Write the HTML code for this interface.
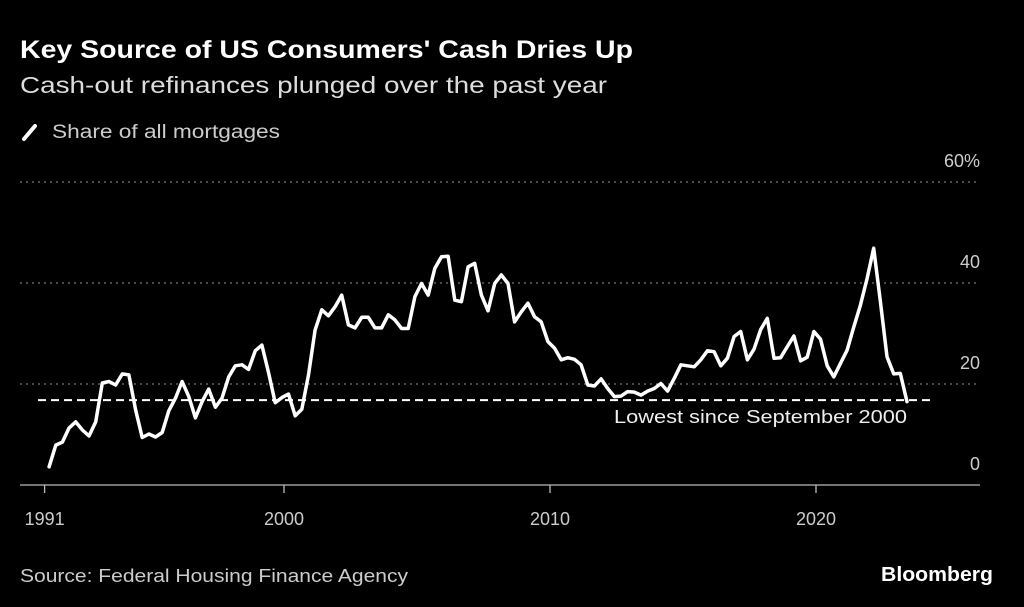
<!DOCTYPE html>
<html><head><meta charset="utf-8"><style>
html,body{margin:0;padding:0;background:#000;width:1024px;height:607px;overflow:hidden}
svg{display:block;font-family:"Liberation Sans",sans-serif}
</style></head><body>
<svg id="chart" width="1024" height="607" viewBox="0 0 1024 607">
<rect width="1024" height="607" fill="#000"/>
<text x="20" y="58" fill="#fff" font-size="25" font-weight="bold" textLength="613" lengthAdjust="spacingAndGlyphs">Key Source of US Consumers' Cash Dries Up</text>
<text x="20" y="93" fill="#ddd" font-size="23" textLength="587" lengthAdjust="spacingAndGlyphs">Cash-out refinances plunged over the past year</text>
<line x1="24" y1="139" x2="35" y2="126" stroke="#fff" stroke-width="4" stroke-linecap="round"/>
<text x="52" y="138" fill="#ccc" font-size="19" textLength="228" lengthAdjust="spacingAndGlyphs">Share of all mortgages</text>
<g id="grid"></g>
<g id="axes"></g>
<g id="marks"></g>
<text x="20" y="582" fill="#ccc" font-size="18" textLength="388" lengthAdjust="spacingAndGlyphs">Source: Federal Housing Finance Agency</text>
<text x="993" y="581" fill="#fff" font-size="20" font-weight="bold" text-anchor="end" textLength="112" lengthAdjust="spacingAndGlyphs">Bloomberg</text>
</svg>
<script>
const startYear = 1991.17;
const values = [3.6,7.9,8.5,11.3,12.5,10.9,9.7,12.5,20.2,20.5,19.8,22,21.8,14.9,9.4,10.1,9.5,10.4,14.7,17.2,20.5,17.5,13.3,16.5,19,15.4,17.2,21.4,23.6,23.8,22.9,26.6,27.7,22.2,16.3,17.3,18,13.7,15,21.8,30.7,34.7,33.5,35.3,37.6,31.7,31.1,33.2,33.2,31.1,31.1,33.7,32.7,31,31,37.3,39.9,37.6,42.9,45.2,45.3,36.6,36.3,43.2,43.9,37.6,34.5,39.9,41.6,39.9,32.3,34.3,36,33.3,32.3,28.4,27.1,24.8,25.2,24.9,23.8,19.8,19.6,21,19.1,17.5,17.6,18.5,18.4,17.8,18.6,19.1,20.1,18.6,21.1,23.8,23.6,23.4,24.8,26.6,26.4,23.6,25.1,29.4,30.4,24.8,26.9,30.8,33,25.1,25.2,27.4,29.5,24.6,25.3,30.4,28.9,23.6,21.4,24.1,26.7,31.3,35.6,40.9,46.9,36.3,25.4,22,22.1,16.5];
const yTicks = [0,20,40,60];
const yTickLabels = ["0","20","40","60%"];
const xTicks = [1991,2000,2010,2020];
const lowestValue = 16.8;
const annotation = "Lowest since September 2000";

const NS = "http://www.w3.org/2000/svg";
const xScale = yr => 284 + (yr - 2000) * 26.6;
const yScale = v => 485 - v * 5.05;
function mk(tag, attrs, parent, text){
  const e = document.createElementNS(NS, tag);
  for (const k in attrs) e.setAttribute(k, attrs[k]);
  if (text !== undefined) e.textContent = text;
  document.getElementById(parent).appendChild(e);
  return e;
}
yTicks.forEach((t,i)=>{
  if (t > 0) {
    const g = mk("line",{x1:20,x2:980,y1:yScale(t),y2:yScale(t),stroke:"#777","stroke-width":1.3,"stroke-dasharray":"2 4"},"grid");
    
    
  }
  const l = mk("text",{x:980,y:yScale(t)-15,fill:"#ccc","font-size":18,"text-anchor":"end"},"axes",yTickLabels[i]);
  
  
});
const ax = mk("line",{x1:20,x2:980,y1:485,y2:485,stroke:"#bbb","stroke-width":1.3},"axes");


xTicks.forEach(t=>{
  const tk = mk("line",{x1:xScale(t),x2:xScale(t),y1:485,y2:493,stroke:"#bbb","stroke-width":1.3},"axes");
  
  
  const lb = mk("text",{x:xScale(t),y:525,fill:"#ccc","font-size":18,"text-anchor":"middle"},"axes",String(t));
  
  
});
const dl = mk("line",{x1:38,x2:935,y1:yScale(lowestValue),y2:yScale(lowestValue),stroke:"#fff","stroke-width":2,"stroke-dasharray":"8 5"},"marks");


const at = mk("text",{x:907,y:yScale(lowestValue)+23,fill:"#eee","font-size":18,"text-anchor":"end",textLength:293,lengthAdjust:"spacingAndGlyphs"},"marks",annotation);


const pts = values.map((v,i)=>xScale(startYear+i/4).toFixed(1)+","+yScale(v).toFixed(1)).join(" ");
const pl = mk("polyline",{points:pts,fill:"none",stroke:"#fff","stroke-width":3.5,"stroke-linejoin":"round","stroke-linecap":"round"},"marks");


</script>
</body></html>
